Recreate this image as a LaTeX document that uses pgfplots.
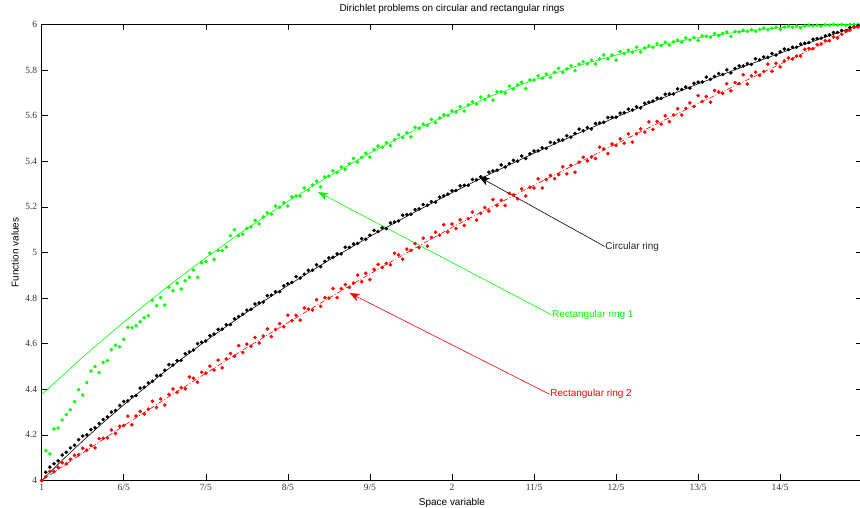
\documentclass[border=0pt]{standalone}
\usepackage{fontspec}
\setmainfont{Liberation Serif}
\newfontfamily\arial{Liberation Sans}
\usepackage{pgfplots}
\usepackage{pgfplotstable}
\pgfplotsset{compat=1.18}
\usetikzlibrary{arrows.meta}
\definecolor{mgreen}{rgb}{0,1,0}
\definecolor{mred}{rgb}{1,0,0}

\pgfplotstableread{
x y
1.0 4.377
1.1 4.541
1.2 4.695
1.3 4.841
1.4 4.977
1.5 5.105
1.6 5.224
1.7 5.335
1.8 5.436
1.9 5.529
2.0 5.613
2.1 5.689
2.2 5.757
2.3 5.815
2.4 5.866
2.5 5.908
2.6 5.942
2.7 5.968
2.8 5.986
2.9 5.997
3.0 6.000
}\greenline

\pgfplotstableread{
x y
1.00 4.000
1.05 4.0888
1.10 4.1735
1.15 4.2544
1.20 4.3319
1.30 4.4776
1.40 4.6125
1.50 4.7381
1.60 4.8556
1.70 4.9660
1.80 5.0701
1.90 5.1685
2.00 5.2619
2.10 5.3507
2.20 5.4354
2.30 5.5163
2.40 5.5938
2.50 5.6681
2.60 5.7395
2.70 5.8082
2.80 5.8744
2.90 5.9383
3.00 6.0000
}\blackline

\pgfplotstableread{
x y
1.0 4.000
1.1 4.121
1.2 4.240
1.3 4.356
1.4 4.470
1.5 4.583
1.6 4.692
1.7 4.800
1.8 4.906
1.9 5.009
2.0 5.110
2.1 5.203
2.2 5.295
2.3 5.386
2.4 5.476
2.5 5.565
2.6 5.653
2.7 5.740
2.8 5.826
2.9 5.912
3.0 6.000
}\redline

\pgfplotstableread{
x y
1.00 4.000
1.01 4.036
1.02 4.059
1.03 4.073
1.04 4.086
1.05 4.112
1.06 4.124
1.07 4.143
1.08 4.155
1.09 4.179
1.10 4.195
1.11 4.200
1.12 4.223
1.13 4.231
1.14 4.250
1.15 4.268
1.16 4.279
1.17 4.300
1.18 4.307
1.19 4.329
1.20 4.347
1.21 4.349
1.22 4.368
1.23 4.373
1.24 4.405
1.25 4.409
1.26 4.428
1.27 4.435
1.28 4.460
1.29 4.461
1.30 4.484
1.31 4.508
1.32 4.507
1.33 4.526
1.34 4.527
1.35 4.556
1.36 4.564
1.37 4.572
1.38 4.600
1.39 4.606
1.40 4.612
1.41 4.635
1.42 4.642
1.43 4.663
1.44 4.664
1.45 4.683
1.46 4.684
1.47 4.709
1.48 4.719
1.49 4.729
1.50 4.747
1.51 4.751
1.52 4.774
1.53 4.779
1.54 4.783
1.55 4.811
1.56 4.813
1.57 4.828
1.58 4.828
1.59 4.854
1.60 4.863
1.61 4.869
1.62 4.894
1.63 4.888
1.64 4.905
1.65 4.922
1.66 4.922
1.67 4.946
1.68 4.938
1.69 4.961
1.70 4.976
1.71 4.979
1.72 4.994
1.73 4.994
1.74 5.023
1.75 5.022
1.76 5.037
1.77 5.040
1.78 5.061
1.79 5.058
1.80 5.076
1.81 5.097
1.82 5.092
1.83 5.108
1.84 5.105
1.85 5.130
1.86 5.134
1.87 5.139
1.88 5.163
1.89 5.166
1.90 5.168
1.91 5.188
1.92 5.191
1.93 5.210
1.94 5.207
1.95 5.223
1.96 5.221
1.97 5.243
1.98 5.249
1.99 5.256
2.00 5.271
2.01 5.272
2.02 5.292
2.03 5.295
2.04 5.295
2.05 5.320
2.06 5.319
2.07 5.332
2.08 5.329
2.09 5.352
2.10 5.358
2.11 5.361
2.12 5.384
2.13 5.375
2.14 5.390
2.15 5.404
2.16 5.401
2.17 5.423
2.18 5.412
2.19 5.433
2.20 5.445
2.21 5.446
2.22 5.459
2.23 5.457
2.24 5.483
2.25 5.480
2.26 5.493
2.27 5.493
2.28 5.512
2.29 5.506
2.30 5.522
2.31 5.541
2.32 5.534
2.33 5.548
2.34 5.542
2.35 5.566
2.36 5.568
2.37 5.571
2.38 5.592
2.39 5.593
2.40 5.593
2.41 5.611
2.42 5.613
2.43 5.629
2.44 5.625
2.45 5.639
2.46 5.634
2.47 5.655
2.48 5.659
2.49 5.664
2.50 5.677
2.51 5.676
2.52 5.694
2.53 5.696
2.54 5.695
2.55 5.718
2.56 5.715
2.57 5.726
2.58 5.721
2.59 5.742
2.60 5.747
2.61 5.748
2.62 5.769
2.63 5.759
2.64 5.772
2.65 5.785
2.66 5.781
2.67 5.801
2.68 5.788
2.69 5.807
2.70 5.818
2.71 5.818
2.72 5.828
2.73 5.825
2.74 5.850
2.75 5.845
2.76 5.857
2.77 5.856
2.78 5.873
2.79 5.866
2.80 5.880
2.81 5.892
2.82 5.890
2.83 5.900
2.84 5.900
2.85 5.914
2.86 5.918
2.87 5.921
2.88 5.935
2.89 5.938
2.90 5.940
2.91 5.950
2.92 5.954
2.93 5.965
2.94 5.965
2.95 5.974
2.96 5.973
2.97 5.986
2.98 5.990
2.99 5.995
3.00 6.000
}\blackdots

\pgfplotstableread{
x y
1.00 4.000
1.01 4.017
1.02 4.040
1.03 4.038
1.04 4.058
1.05 4.078
1.06 4.073
1.07 4.093
1.08 4.111
1.09 4.113
1.10 4.141
1.11 4.133
1.12 4.154
1.13 4.143
1.14 4.184
1.15 4.185
1.16 4.187
1.17 4.222
1.18 4.206
1.19 4.238
1.20 4.241
1.21 4.282
1.22 4.244
1.23 4.283
1.24 4.303
1.25 4.292
1.26 4.313
1.27 4.348
1.28 4.320
1.29 4.358
1.30 4.331
1.31 4.378
1.32 4.401
1.33 4.387
1.34 4.407
1.35 4.402
1.36 4.454
1.37 4.448
1.38 4.431
1.39 4.475
1.40 4.471
1.41 4.502
1.42 4.485
1.43 4.528
1.44 4.494
1.45 4.533
1.46 4.557
1.47 4.545
1.48 4.592
1.49 4.561
1.50 4.598
1.51 4.589
1.52 4.627
1.53 4.603
1.54 4.634
1.55 4.665
1.56 4.631
1.57 4.662
1.58 4.688
1.59 4.674
1.60 4.725
1.61 4.701
1.62 4.725
1.63 4.703
1.64 4.757
1.65 4.752
1.66 4.748
1.67 4.793
1.68 4.764
1.69 4.802
1.70 4.800
1.71 4.842
1.72 4.802
1.73 4.841
1.74 4.859
1.75 4.847
1.76 4.866
1.77 4.901
1.78 4.872
1.79 4.909
1.80 4.881
1.81 4.926
1.82 4.948
1.83 4.934
1.84 4.952
1.85 4.946
1.86 4.997
1.87 4.990
1.88 4.971
1.89 5.015
1.90 5.010
1.91 5.039
1.92 5.021
1.93 5.063
1.94 5.028
1.95 5.066
1.96 5.089
1.97 5.076
1.98 5.122
1.99 5.090
2.00 5.125
2.01 5.105
2.02 5.143
2.03 5.118
2.04 5.148
2.05 5.177
2.06 5.142
2.07 5.172
2.08 5.197
2.09 5.182
2.10 5.232
2.11 5.206
2.12 5.229
2.13 5.206
2.14 5.259
2.15 5.253
2.16 5.235
2.17 5.279
2.18 5.248
2.19 5.286
2.20 5.283
2.21 5.323
2.22 5.283
2.23 5.320
2.24 5.338
2.25 5.324
2.26 5.342
2.27 5.376
2.28 5.345
2.29 5.382
2.30 5.352
2.31 5.396
2.32 5.418
2.33 5.402
2.34 5.419
2.35 5.412
2.36 5.462
2.37 5.454
2.38 5.434
2.39 5.476
2.40 5.470
2.41 5.498
2.42 5.479
2.43 5.520
2.44 5.484
2.45 5.521
2.46 5.542
2.47 5.528
2.48 5.573
2.49 5.540
2.50 5.575
2.51 5.563
2.52 5.600
2.53 5.574
2.54 5.603
2.55 5.631
2.56 5.603
2.57 5.632
2.58 5.656
2.59 5.640
2.60 5.688
2.61 5.662
2.62 5.684
2.63 5.659
2.64 5.711
2.65 5.704
2.66 5.698
2.67 5.740
2.68 5.709
2.69 5.745
2.70 5.741
2.71 5.780
2.72 5.739
2.73 5.775
2.74 5.791
2.75 5.777
2.76 5.794
2.77 5.826
2.78 5.795
2.79 5.830
2.80 5.814
2.81 5.840
2.82 5.854
2.83 5.849
2.84 5.861
2.85 5.861
2.86 5.891
2.87 5.895
2.88 5.894
2.89 5.912
2.90 5.915
2.91 5.929
2.92 5.929
2.93 5.946
2.94 5.941
2.95 5.957
2.96 5.971
2.97 5.975
2.98 5.990
2.99 5.989
3.00 6.000
}\reddots

\pgfplotstableread{
x y
1.01 4.131
1.02 4.117
1.03 4.226
1.04 4.231
1.05 4.266
1.06 4.289
1.07 4.311
1.08 4.346
1.09 4.399
1.10 4.375
1.11 4.430
1.12 4.480
1.13 4.500
1.14 4.473
1.15 4.518
1.16 4.526
1.17 4.574
1.18 4.593
1.19 4.586
1.20 4.619
1.21 4.672
1.22 4.670
1.23 4.679
1.24 4.697
1.25 4.714
1.26 4.723
1.27 4.790
1.28 4.767
1.29 4.802
1.30 4.770
1.31 4.848
1.32 4.832
1.33 4.866
1.34 4.840
1.35 4.876
1.36 4.891
1.37 4.923
1.38 4.891
1.39 4.954
1.40 4.960
1.41 4.997
1.42 4.970
1.43 5.009
1.44 5.008
1.45 5.024
1.46 5.074
1.47 5.100
1.48 5.074
1.49 5.080
1.50 5.106
1.51 5.112
1.52 5.141
1.53 5.126
1.54 5.156
1.55 5.175
1.56 5.169
1.57 5.204
1.58 5.198
1.59 5.218
1.60 5.204
1.61 5.244
1.62 5.248
1.63 5.247
1.64 5.283
1.65 5.274
1.66 5.296
1.67 5.313
1.68 5.288
1.69 5.331
1.70 5.335
1.71 5.358
1.72 5.351
1.73 5.375
1.74 5.364
1.75 5.390
1.76 5.412
1.77 5.397
1.78 5.417
1.79 5.436
1.80 5.418
1.81 5.452
1.82 5.467
1.83 5.462
1.84 5.482
1.85 5.469
1.86 5.495
1.87 5.516
1.88 5.504
1.89 5.525
1.90 5.507
1.91 5.549
1.92 5.545
1.93 5.564
1.94 5.558
1.95 5.584
1.96 5.569
1.97 5.590
1.98 5.604
1.99 5.601
2.00 5.621
2.01 5.616
2.02 5.640
2.03 5.621
2.04 5.647
2.05 5.661
2.06 5.651
2.07 5.681
2.08 5.671
2.09 5.687
2.10 5.669
2.11 5.705
2.12 5.705
2.13 5.699
2.14 5.730
2.15 5.717
2.16 5.735
2.17 5.747
2.18 5.718
2.19 5.757
2.20 5.757
2.21 5.775
2.22 5.764
2.23 5.783
2.24 5.768
2.25 5.790
2.26 5.808
2.27 5.789
2.28 5.805
2.29 5.819
2.30 5.797
2.31 5.826
2.32 5.837
2.33 5.828
2.34 5.843
2.35 5.827
2.36 5.849
2.37 5.866
2.38 5.849
2.39 5.866
2.40 5.844
2.41 5.881
2.42 5.873
2.43 5.887
2.44 5.878
2.45 5.900
2.46 5.880
2.47 5.897
2.48 5.906
2.49 5.900
2.50 5.916
2.51 5.908
2.52 5.922
2.53 5.909
2.54 5.924
2.55 5.931
2.56 5.923
2.57 5.941
2.58 5.933
2.59 5.943
2.60 5.930
2.61 5.950
2.62 5.948
2.63 5.944
2.64 5.960
2.65 5.951
2.66 5.961
2.67 5.967
2.68 5.948
2.69 5.969
2.70 5.968
2.71 5.975
2.72 5.970
2.73 5.977
2.74 5.970
2.75 5.979
2.76 5.985
2.77 5.977
2.78 5.983
2.79 5.988
2.80 5.979
2.81 5.989
2.82 5.993
2.83 5.988
2.84 5.993
2.85 5.985
2.86 5.994
2.87 5.997
2.88 5.994
2.89 5.997
2.90 5.993
2.91 5.999
2.92 5.997
2.93 6.000
2.94 5.997
2.95 6.000
2.96 5.997
2.97 5.999
2.98 6.000
2.99 6.000
3.00 6.000
}\greendots

\begin{document}
\begin{tikzpicture}
\useasboundingbox (-41.7bp,-27.5bp) rectangle (818.3bp,480.5bp);
\begin{axis}[
  at={(0,0)}, anchor=south west,
  scale only axis, width=820.5bp, height=456bp,
  xmin=1, xmax=3, ymin=4, ymax=6,
  xtick={1,1.2,1.4,1.6,1.8,2,2.2,2.4,2.6,2.8},
  xticklabels={1,6/5,7/5,8/5,9/5,2,11/5,12/5,13/5,14/5},
  ytick={4,4.2,4.4,4.6,4.8,5,5.2,5.4,5.6,5.8,6},
  yticklabels={4,4.2,4.4,4.6,4.8,5,5.2,5.4,5.6,5.8,6},
  tick align=inside,
  major tick length=6bp,
  tick style={black, line width=0.6bp},
  axis line style={black, line width=0.8bp},
  ticklabel style={font=\fontsize{9.5}{10}\selectfont, text=black!80},
  yticklabel style={xshift=-1bp},
  title={Dirichlet problems on circular and rectangular rings},
  title style={font=\arial\fontsize{10}{12}\selectfont, at={(axis description cs:0.5,1.0158)}, anchor=base, inner sep=0pt},
  xlabel={Space variable},
  xlabel style={font=\arial\fontsize{10}{12}\selectfont, at={(axis description cs:0.5,-0.0384)}, anchor=north, inner sep=0pt},
  ylabel={Function values},
  ylabel style={font=\arial\fontsize{10}{12}\selectfont, at={(axis description cs:-0.0325,0.5)}, anchor=center, inner sep=0pt},
  clip=true,
]
\addplot[mgreen, line width=0.6bp] table {\greenline};
\addplot[black, line width=0.6bp] table {\blackline};
\addplot[mred, line width=0.6bp, dash pattern=on 5bp off 2bp on 1bp off 2bp] table {\redline};
\addplot[only marks, mark=*, mark size=1.6bp, mark options={draw=mgreen, fill=mgreen}] table {\greendots};
\addplot[only marks, mark=*, mark size=1.6bp, mark options={draw=black, fill=black}] table {\blackdots};
\addplot[only marks, mark=*, mark size=1.6bp, mark options={draw=mred, fill=mred}] table {\reddots};

\draw[black, line width=0.6bp, -{Stealth[length=10bp,width=8bp,inset=3bp]}] (axis cs:2.3722,5.0265) -- (axis cs:2.067,5.331);
\node[anchor=west, inner sep=0.5bp, font=\arial\fontsize{10}{12}\selectfont, text=black!85] at (axis cs:2.3722,5.0265) {Circular ring};
\draw[mgreen, line width=0.6bp, -{Stealth[length=10bp,width=8bp,inset=3bp]}] (axis cs:2.2424,4.727) -- (axis cs:1.674,5.265);
\node[anchor=west, inner sep=0.5bp, font=\arial\fontsize{10}{12}\selectfont, text=mgreen] at (axis cs:2.2424,4.727) {Rectangular ring 1};
\draw[mred, line width=0.6bp, -{Stealth[length=10bp,width=8bp,inset=3bp]}] (axis cs:2.2382,4.378) -- (axis cs:1.751,4.822);
\node[anchor=west, inner sep=0.5bp, font=\arial\fontsize{10}{12}\selectfont, text=mred] at (axis cs:2.2382,4.378) {Rectangular ring 2};
\end{axis}
\end{tikzpicture}
\end{document}
